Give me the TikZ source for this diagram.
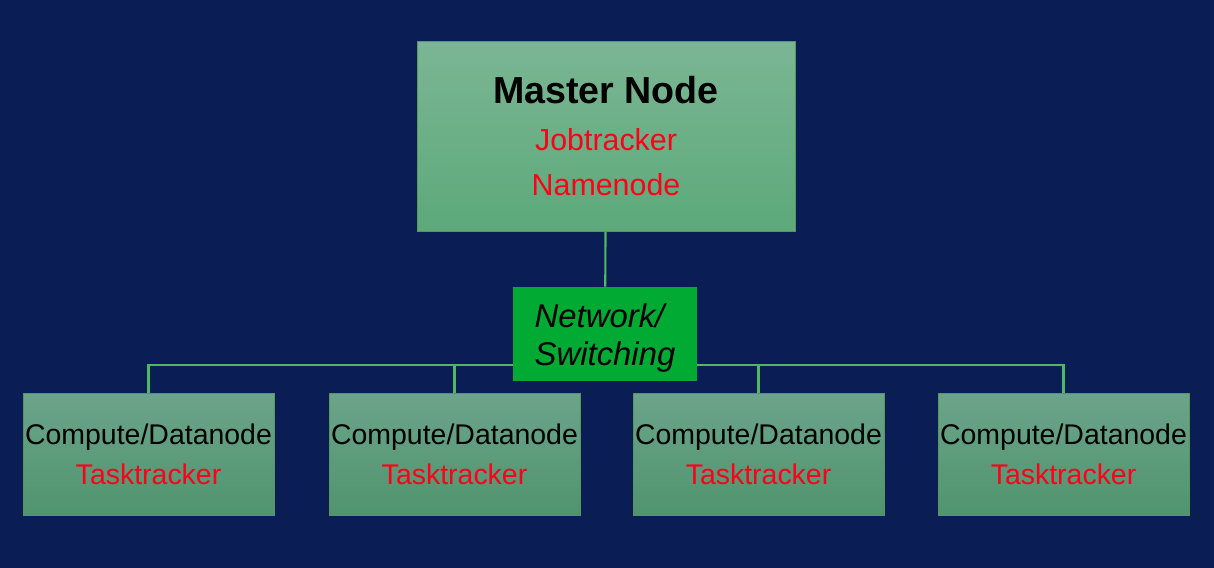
\documentclass[tikz,border=0pt]{standalone}
\usepackage{fontspec}
\setmainfont{Liberation Sans}
\usepackage{tikz}
\usepackage{xcolor}
\usetikzlibrary{backgrounds,calc,positioning}
\definecolor{bgblue}{RGB}{10,30,85}
\definecolor{linkgreen}{RGB}{80,184,96}
\definecolor{netgreen}{RGB}{0,170,51}
\definecolor{txtred}{RGB}{255,0,25}
\tikzset{%
	master/.style = {rectangle, draw=black!20!green!30!gray, top color={rgb,255:red,123;green,182;blue,148}, bottom color={rgb,255:red,92;green,169;blue,122}, minimum width=7.56cm, minimum height=3.8cm, inner sep=0pt, align=center, font=\fontsize{17.3}{25.5}\selectfont},
	worker/.style = {rectangle, draw=black!20!green!30!gray, top color={rgb,255:red,108;green,164;blue,138}, bottom color={rgb,255:red,80;green,148;blue,110}, minimum width=5.02cm, minimum height=2.44cm, inner sep=0pt, align=center, font=\fontsize{16.2}{22.7}\selectfont},
	switchbox/.style = {rectangle, fill=netgreen, minimum width=3.68cm, minimum height=1.88cm, inner sep=0pt, align=left, font=\fontsize{18.7}{21.5}\selectfont\itshape},
	link/.style   = {draw=linkgreen, line width=1.2pt},
}
\begin{document}
\begin{tikzpicture}[x=0.02cm,y=-0.02cm]
		\useasboundingbox (0,0) rectangle (1214,568);
		\node[master] (master) at (606,136) {{\fontsize{21.4}{25.5}\selectfont\bfseries Master Node}\\[1pt] \textcolor{txtred}{Jobtracker}\\ \textcolor{txtred}{Namenode}};
		\node[switchbox] (net) at (605,334) {\rule{0pt}{18.5pt}Network/\\Switching\hspace{4pt}};
		\foreach \i/\x in {1/148.5,2/454.5,3/758.5,4/1063.5}
			\node[worker] (w\i) at (\x,454) {Compute/Datanode\\ \textcolor{txtred}{Tasktracker}};
		\begin{scope}[on background layer]
			\fill[bgblue] (0,0) rectangle (1214,568);  % background
			\draw[link] (master) -- (net);
			\draw[link] (w1.north) -- ++(0,-28) coordinate (busL) -| (w4.north);  % bus
			\foreach \i in {2,3}
				\draw[link] (w\i.north) -- (w\i.north |- busL);
		\end{scope}
	\end{tikzpicture}
\end{document}
